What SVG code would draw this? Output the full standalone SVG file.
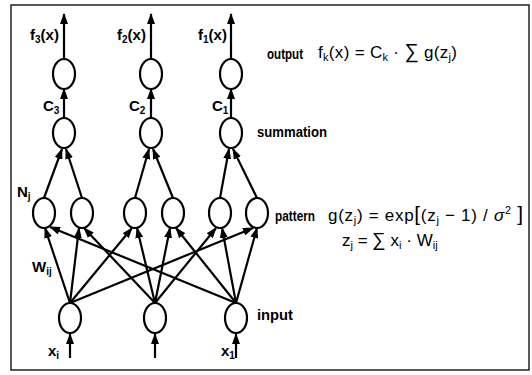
<svg xmlns="http://www.w3.org/2000/svg" width="532" height="375" viewBox="0 0 532 375">
<style>
.n{fill:#fff;stroke:#000;stroke-width:2.2}
.c{stroke:#000;stroke-width:2.2;fill:none;marker-end:url(#ah)}
.lb{font-family:"Liberation Sans Narrow","Liberation Sans",Arial,sans-serif;font-weight:bold;font-size:15px;fill:#000}
.sb{font-size:10px}
.fm{font-family:"Liberation Sans Narrow","Liberation Sans",Arial,sans-serif;font-size:17px;fill:#000}
.fs{font-size:11px}
</style>
<defs>
<marker id="ah" markerUnits="userSpaceOnUse" markerWidth="11" markerHeight="8" refX="10" refY="4" orient="auto">
<path d="M0,0 L11,4 L0,8 z" fill="#000"/>
</marker>
</defs>
<rect x="11" y="5" width="518" height="365" fill="none" stroke="#000" stroke-width="1.3"/>
<g id="connectors">
<line class="c" x1="64" y1="59" x2="64" y2="14"/>
<line class="c" x1="151" y1="59" x2="151" y2="14"/>
<line class="c" x1="231" y1="59" x2="231" y2="14"/>
<line class="c" x1="64" y1="118" x2="64" y2="89"/>
<line class="c" x1="151" y1="118" x2="151" y2="89"/>
<line class="c" x1="231" y1="118" x2="231" y2="89"/>
<line class="c" x1="44" y1="198" x2="62" y2="149"/>
<line class="c" x1="82" y1="198" x2="66" y2="149"/>
<line class="c" x1="135" y1="198" x2="149" y2="149"/>
<line class="c" x1="173" y1="198" x2="153" y2="149"/>
<line class="c" x1="220" y1="198" x2="229" y2="149"/>
<line class="c" x1="257" y1="198" x2="233" y2="149"/>
<line class="c" x1="70" y1="303" x2="45" y2="228"/>
<line class="c" x1="70" y1="303" x2="79" y2="228"/>
<line class="c" x1="70" y1="303" x2="132" y2="228"/>
<line class="c" x1="70" y1="303" x2="253" y2="228"/>
<line class="c" x1="155" y1="303" x2="84" y2="228"/>
<line class="c" x1="155" y1="303" x2="137" y2="228"/>
<line class="c" x1="155" y1="303" x2="170" y2="228"/>
<line class="c" x1="155" y1="303" x2="216" y2="228"/>
<line class="c" x1="236" y1="303" x2="50" y2="227"/>
<line class="c" x1="236" y1="303" x2="176" y2="228"/>
<line class="c" x1="236" y1="303" x2="222" y2="228"/>
<line class="c" x1="236" y1="303" x2="257" y2="228"/>
<line class="c" x1="70" y1="358" x2="70" y2="334"/>
<line class="c" x1="155" y1="358" x2="155" y2="334"/>
<line class="c" x1="236" y1="358" x2="236" y2="334"/>
</g>
<g id="out3"><ellipse class="n" cx="64" cy="74" rx="11" ry="15"/><text class="lb" x="30" y="40">f<tspan class="sb" dy="3">3</tspan><tspan dy="-3">(x)</tspan></text></g>
<g id="out2"><ellipse class="n" cx="151" cy="74" rx="11" ry="15"/><text class="lb" x="117" y="40">f<tspan class="sb" dy="3">2</tspan><tspan dy="-3">(x)</tspan></text></g>
<g id="out1"><ellipse class="n" cx="231" cy="74" rx="11" ry="15"/><text class="lb" x="198" y="40">f<tspan class="sb" dy="3">1</tspan><tspan dy="-3">(x)</tspan></text></g>
<g id="sum3"><ellipse class="n" cx="64" cy="133" rx="11" ry="15"/><text class="lb" x="43" y="111">C<tspan class="sb" dy="3">3</tspan></text></g>
<g id="sum2"><ellipse class="n" cx="151" cy="133" rx="11" ry="15"/><text class="lb" x="129" y="111">C<tspan class="sb" dy="3">2</tspan></text></g>
<g id="sum1"><ellipse class="n" cx="231" cy="133" rx="11" ry="15"/><text class="lb" x="212" y="111">C<tspan class="sb" dy="3">1</tspan></text></g>
<g id="pat1"><ellipse class="n" cx="44" cy="213" rx="11" ry="15"/><text class="lb" x="17" y="197">N<tspan class="sb" dy="3">j</tspan></text></g>
<g id="pat2"><ellipse class="n" cx="82" cy="213" rx="11" ry="15"/></g>
<g id="pat3"><ellipse class="n" cx="135" cy="213" rx="11" ry="15"/></g>
<g id="pat4"><ellipse class="n" cx="173" cy="213" rx="11" ry="15"/></g>
<g id="pat5"><ellipse class="n" cx="220" cy="213" rx="11" ry="15"/></g>
<g id="pat6"><ellipse class="n" cx="257" cy="213" rx="11" ry="15"/></g>
<g id="in1"><ellipse class="n" cx="70" cy="318" rx="11" ry="15"/><text class="lb" x="48" y="356">x<tspan class="sb" dy="3">i</tspan></text></g>
<g id="in2"><ellipse class="n" cx="155" cy="318" rx="11" ry="15"/></g>
<g id="in3"><ellipse class="n" cx="236" cy="318" rx="11" ry="15"/><text class="lb" x="221" y="356">x<tspan class="sb" dy="3">1</tspan></text></g>
<g id="weights"><text class="lb" x="32" y="272">W<tspan class="sb" dy="3">ij</tspan></text></g>
<g id="labels">
<text class="lb" x="267" y="59" font-size="16" textLength="36" lengthAdjust="spacingAndGlyphs">output</text>
<text class="lb" x="257" y="137" font-size="16" textLength="70" lengthAdjust="spacingAndGlyphs">summation</text>
<text class="lb" x="275" y="221" font-size="16" textLength="40" lengthAdjust="spacingAndGlyphs">pattern</text>
<text class="lb" x="257" y="320" font-size="16" textLength="36" lengthAdjust="spacingAndGlyphs">input</text>
</g>
<g id="formulas">
<text class="fm" x="318" y="58" textLength="139" lengthAdjust="spacing">f<tspan class="fs" dy="3">k</tspan><tspan dy="-3">(x) = C</tspan><tspan class="fs" dy="3">k</tspan><tspan dy="-3"> · </tspan><tspan font-size="20">∑</tspan><tspan> g(z</tspan><tspan class="fs" dy="3">j</tspan><tspan dy="-3">)</tspan></text>
<text class="fm" x="328" y="221" textLength="195" lengthAdjust="spacing">g(z<tspan class="fs" dy="3">j</tspan><tspan dy="-3">) = exp</tspan><tspan font-size="21">[</tspan><tspan>(z</tspan><tspan class="fs" dy="3">j</tspan><tspan dy="-3"> − 1) / </tspan><tspan font-style="italic">σ</tspan><tspan class="fs" dy="-7">2</tspan><tspan dy="7"> </tspan><tspan font-size="21">]</tspan></text>
<text class="fm" x="342" y="246">z<tspan class="fs" dy="3">j</tspan><tspan dy="-3"> = </tspan><tspan font-size="19">∑</tspan><tspan> x</tspan><tspan class="fs" dy="3">i</tspan><tspan dy="-3"> · W</tspan><tspan class="fs" dy="3">ij</tspan></text>
</g>
</svg>
